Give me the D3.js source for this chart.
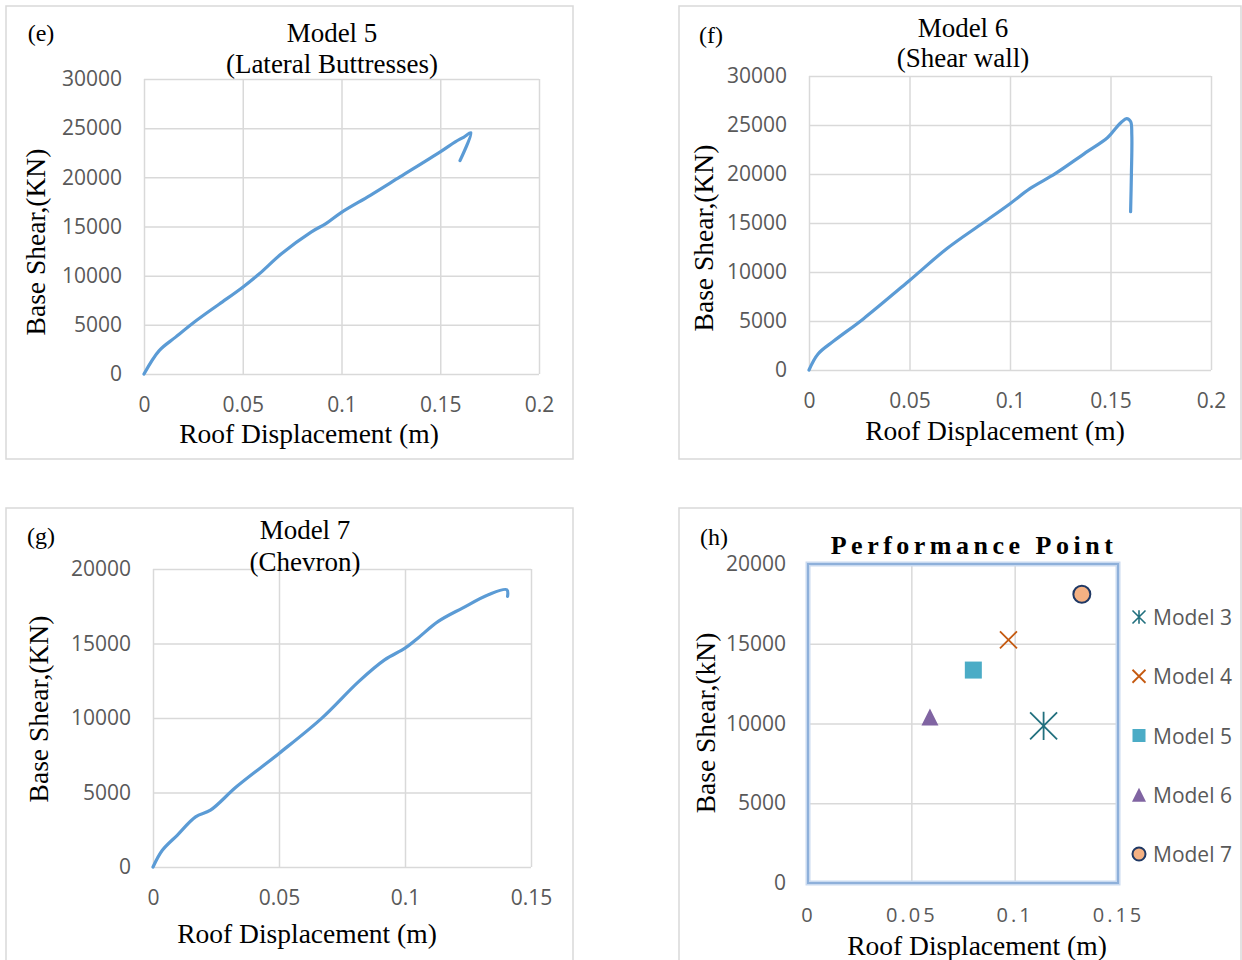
<!DOCTYPE html>
<html>
<head>
<meta charset="utf-8">
<script src="https://cdn.jsdelivr.net/npm/d3@7"></script>
<style>
body { margin: 0; background: #fff; }
svg { display: block; }
</style>
</head>
<body>
<div id="chart"></div>
<script>
// pushover curves, values
var m5Disp  = [0, 0.0077, 0.016, 0.0265, 0.038, 0.05, 0.0584, 0.0696, 0.0846, 0.0921, 0.1, 0.1146, 0.1296, 0.15, 0.1576, 0.162, 0.1655, 0.16]
var m5Shear = [0, 2378, 3750, 5435, 7100, 8832, 10190, 12228, 14436, 15285, 16440, 18173, 20041, 22588, 23607, 24100, 24530, 21700]

var m6Disp  = [0, 0.0045, 0.0126, 0.027, 0.05, 0.0685, 0.0865, 0.1, 0.1099, 0.1225, 0.137, 0.1486, 0.1532, 0.1555, 0.158, 0.16, 0.1606, 0.1604, 0.16]
var m6Shear = [0, 1636, 3000, 5215, 9135, 12372, 15000, 16973, 18507, 20040, 22086, 23722, 24813, 25300, 25650, 25350, 24000, 20000, 16150]

var m7Disp  = [0, 0.0037, 0.0096, 0.0169, 0.0228, 0.0331, 0.05, 0.0669, 0.0816, 0.0919, 0.1, 0.1051, 0.1132, 0.1228, 0.1331, 0.1404, 0.1407]
var m7Shear = [0, 1121, 2130, 3363, 3812, 5381, 7623, 9978, 12444, 13901, 14686, 15359, 16480, 17377, 18274, 18610, 18161]

// performance points
var ppModels = ['Model 3', 'Model 4', 'Model 5', 'Model 6', 'Model 7']
var ppDisp   = [0.114, 0.097, 0.08, 0.059, 0.1325]
var ppShear  = [9850, 15250, 13350, 10400, 18100]

var xTicks20 = [0, 0.05, 0.1, 0.15, 0.2]
var xTicks15 = [0, 0.05, 0.1, 0.15]
var yTicks30k = [0, 5000, 10000, 15000, 20000, 25000, 30000]
var yTicks20k = [0, 5000, 10000, 15000, 20000]

var W = 1242, H = 960
var serif = '"Liberation Serif", "Times New Roman", serif'
var sans = '"Open Sans", "Noto Sans", sans-serif'
var gridCol = '#d9d9d9'
var tickCol = '#595959'
var lineCol = '#5b9bd5'

var svg = d3.select('#chart').append('svg').attr('width', W).attr('height', H)
svg.append('rect').attr('width', W).attr('height', H).attr('fill', '#fff')

function frame(x0, y0, x1, y1) {
  svg.append('rect').attr('x', x0).attr('y', y0).attr('width', x1 - x0).attr('height', y1 - y0)
    .attr('fill', 'none').attr('stroke', gridCol).attr('stroke-width', 1.5)
}

function label(txt, x, y, size, opts) {
  opts = opts || {}
  var t = svg.append('text').attr('x', x).attr('y', y).text(txt)
    .attr('font-family', opts.family || serif).attr('font-size', size)
    .attr('fill', opts.fill || '#000')
    .attr('text-anchor', opts.anchor || 'middle')
    .attr('dominant-baseline', 'central')
  if (opts.bold) t.attr('font-weight', 'bold')
  if (opts.spacing) t.attr('letter-spacing', opts.spacing)
  if (opts.rotate) t.attr('transform', 'rotate(-90,' + x + ',' + y + ')')
  return t
}

// grid + tick labels using d3 axes
function axes(p, x, y) {
  var gx = svg.append('g').attr('transform', 'translate(0,' + p.bottom + ')')
    .call(d3.axisBottom(x).tickValues(p.xTicks).tickSize(-(p.bottom - p.top)).tickPadding(p.xPad || 23.5).tickFormat(function (d) { return String(d) }))
  var gy = svg.append('g').attr('transform', 'translate(' + p.left + ',0)')
    .call(d3.axisLeft(y).tickValues(p.yTicks).tickSize(-(p.right - p.left)).tickPadding(22).tickFormat(function (d) { return String(d) }))
  ;[gx, gy].forEach(function (g) {
    g.select('.domain').remove()
    g.selectAll('line').attr('stroke', gridCol).attr('stroke-width', 1.5)
    g.selectAll('text').attr('fill', tickCol).attr('font-family', sans).attr('font-size', 21)
  })
  if (p.xSpacing) gx.selectAll('text').attr('letter-spacing', p.xSpacing).attr('font-size', 20)
}

function curvePanel(p, xs, ys) {
  frame(p.fx0, p.fy0, p.fx1, p.fy1)
  var x = d3.scaleLinear().domain([0, p.xMax]).range([p.left, p.right])
  var y = d3.scaleLinear().domain([0, p.yMax]).range([p.bottom, p.top])
  axes(p, x, y)
  var pts = d3.range(xs.length).map(function (i) { return [xs[i], ys[i]] })
  var line = d3.line().x(function (d) { return x(d[0]) }).y(function (d) { return y(d[1]) })
    .curve(d3.curveCatmullRom.alpha(0.5))
  svg.append('path').datum(pts).attr('d', line).attr('fill', 'none')
    .attr('stroke', lineCol).attr('stroke-width', 3.2).attr('stroke-linecap', 'round').attr('stroke-linejoin', 'round')
  label(p.tag, p.tagX, p.tagY, 24)
  label(p.title1, p.titleX, p.titleY1, 27)
  label(p.title2, p.titleX, p.titleY2, 27)
  label('Roof Displacement (m)', p.xtX, p.xtY, 27.5)
  label('Base Shear,(KN)', p.ytX, p.ytY, 27.5, { rotate: true })
}

curvePanel({
  fx0: 6, fy0: 6, fx1: 573, fy1: 459,
  left: 144, right: 539, top: 79, bottom: 374, xMax: 0.2, yMax: 30000,
  xTicks: xTicks20, yTicks: yTicks30k,
  tag: '(e)', tagX: 41, tagY: 33, title1: 'Model 5', title2: '(Lateral Buttresses)', titleX: 332, titleY1: 33, titleY2: 64,
  xtX: 309, xtY: 433, ytX: 35, ytY: 242
}, m5Disp, m5Shear)

curvePanel({
  fx0: 679, fy0: 6, fx1: 1241, fy1: 459,
  left: 809, right: 1211, top: 76, bottom: 370, xMax: 0.2, yMax: 30000,
  xTicks: xTicks20, yTicks: yTicks30k,
  tag: '(f)', tagX: 711, tagY: 35, title1: 'Model 6', title2: '(Shear wall)', titleX: 963, titleY1: 28, titleY2: 58,
  xtX: 995, xtY: 430, ytX: 703, ytY: 238
}, m6Disp, m6Shear)

curvePanel({
  fx0: 6, fy0: 508, fx1: 573, fy1: 975,
  left: 153, right: 531, top: 569, bottom: 867, xMax: 0.15, yMax: 20000,
  xTicks: xTicks15, yTicks: yTicks20k,
  tag: '(g)', tagX: 41, tagY: 536, title1: 'Model 7', title2: '(Chevron)', titleX: 305, titleY1: 530, titleY2: 562,
  xtX: 307, xtY: 933, ytX: 38, ytY: 709
}, m7Disp, m7Shear)

// (h) performance point scatter
;(function () {
  var p = { left: 808, right: 1118, top: 564, bottom: 883, xTicks: xTicks15, yTicks: yTicks20k, xSpacing: 3, xPad: 24.5 }
  frame(679, 508, 1241, 975)
  var x = d3.scaleLinear().domain([0, 0.15]).range([p.left, p.right])
  var y = d3.scaleLinear().domain([0, 20000]).range([p.bottom, p.top])
  axes(p, x, y)
  // blue plot-area border with soft edge
  svg.append('rect').attr('x', p.left).attr('y', p.top).attr('width', p.right - p.left).attr('height', p.bottom - p.top)
    .attr('fill', 'none').attr('stroke', '#c9daf0').attr('stroke-width', 5)
  svg.append('rect').attr('x', p.left).attr('y', p.top).attr('width', p.right - p.left).attr('height', p.bottom - p.top)
    .attr('fill', 'none').attr('stroke', '#8eb0da').attr('stroke-width', 2)

  var cols = ['#22707e', '#c55a11', '#4bacc6', '#8064a2', '#f4b183']

  function marker(i, cx, cy, s) {
    var g = svg.append('g').attr('transform', 'translate(' + cx + ',' + cy + ')')
    if (i === 0) {
      g.append('path').attr('d', 'M' + (-s) + ',' + (-s) + 'L' + s + ',' + s + 'M' + (-s) + ',' + s + 'L' + s + ',' + (-s) + 'M0,' + (-s * 1.05) + 'L0,' + (s * 1.05))
        .attr('stroke', cols[0]).attr('stroke-width', s > 8 ? 1.8 : 1.6).attr('fill', 'none')
    } else if (i === 1) {
      g.append('path').attr('d', 'M' + (-s) + ',' + (-s) + 'L' + s + ',' + s + 'M' + (-s) + ',' + s + 'L' + s + ',' + (-s))
        .attr('stroke', cols[1]).attr('stroke-width', 1.8).attr('fill', 'none')
    } else if (i === 2) {
      g.append('rect').attr('x', -s).attr('y', -s).attr('width', 2 * s).attr('height', 2 * s).attr('fill', cols[2])
    } else if (i === 3) {
      g.append('path').attr('d', 'M0,' + (-s) + 'L' + s + ',' + s + 'L' + (-s) + ',' + s + 'Z').attr('fill', cols[3])
    } else {
      g.append('circle').attr('r', s).attr('fill', cols[4]).attr('stroke', '#1f3864').attr('stroke-width', 2)
    }
  }

  var big = [13.5, 8.5, 8.5, 8.5, 8.5]
  var small = [6.5, 6.5, 6.5, 7, 6.5]
  ppModels.forEach(function (m, i) {
    marker(i, x(ppDisp[i]), y(ppShear[i]), big[i])
  })

  var legY = d3.scalePoint().domain(ppModels).range([617, 854])
  ppModels.forEach(function (m, i) {
    marker(i, 1139, legY(m), small[i])
    label(m, 1153, legY(m), 21, { family: sans, fill: tickCol, anchor: 'start' })
  })

  label('(h)', 714, 537, 24)
  label('Performance Point', 974, 545, 26, { bold: true, spacing: 4.5 })
  label('Roof Displacement (m)', 977, 945, 27.5)
  label('Base Shear,(kN)', 705, 723, 27.5, { rotate: true })
})()
</script>
</body>
</html>
